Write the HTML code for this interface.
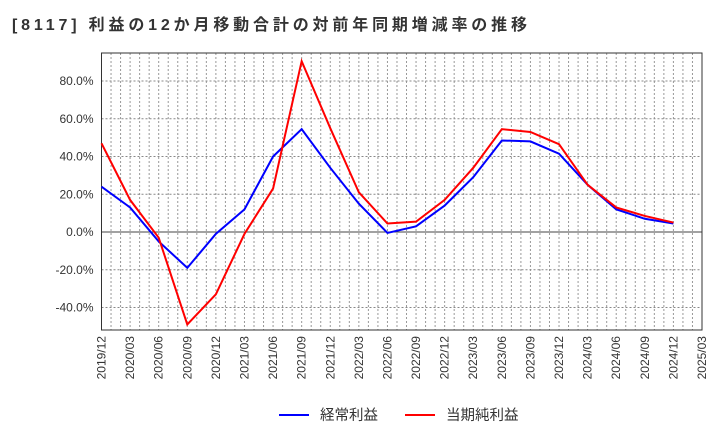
<!DOCTYPE html>
<html><head><meta charset="utf-8"><style>
body{margin:0;background:#fff;font-family:"Liberation Sans","Noto Sans CJK JP",sans-serif}
svg text{font-family:"Liberation Sans","Noto Sans CJK JP",sans-serif}
</style></head><body>
<svg id="c" width="720" height="440">
<text x="12" y="30" font-size="16" font-weight="bold" fill="#333" textLength="515" lengthAdjust="spacing">[8117]  利益の12か月移動合計の対前年同期増減率の推移</text>
<g id="grid"></g><g id="axes"></g><g id="series"></g>
<g>
<line x1="279" y1="415" x2="309" y2="415" stroke="#0000ff" stroke-width="2"/>
<text x="320" y="420" font-size="14.5" fill="#333">経常利益</text>
<line x1="405" y1="415" x2="435" y2="415" stroke="#ff0000" stroke-width="2"/>
<text x="446" y="420" font-size="14.5" fill="#333">当期純利益</text>
</g>
</svg>
<script>
const xLabels=["2019/12","2020/03","2020/06","2020/09","2020/12","2021/03","2021/06","2021/09","2021/12","2022/03","2022/06","2022/09","2022/12","2023/03","2023/06","2023/09","2023/12","2024/03","2024/06","2024/09","2024/12","2025/03"];
const yTicks=[-40,-20,0,20,40,60,80];
const ordinary=[24,13,-5,-19,-1,12,40,54.5,34,15,-0.5,3,14,29,48.5,48,41.5,25,12,7,4.5];
const net=[47,17,-3,-49,-33,-1,23,90.5,55,21,4.5,5.5,17,34,54.5,53,46.5,25,13,8.5,5];
const L=101.5,R=702,T=53,B=330;
const X=i=>L+(R-L)*i/(xLabels.length-1);
const Y=v=>232-v*1.8875;
const ns="http://www.w3.org/2000/svg";
function mk(t,a,p){const e=document.createElementNS(ns,t);for(const k in a)e.setAttribute(k,a[k]);p.appendChild(e);return e;}
const g=document.getElementById('grid'),ax=document.getElementById('axes'),s=document.getElementById('series');
for(let m=1;m<(xLabels.length-1)*3;m++){const x=L+(R-L)*m/((xLabels.length-1)*3);
const l=mk('line',{x1:x,x2:x,y1:T,y2:B,stroke:'#999','stroke-dasharray':'2,2','stroke-width':1},g);

}
yTicks.forEach(v=>{const l=mk('line',{x1:L,x2:R,y1:Y(v),y2:Y(v),stroke:v===0?'#444':'#888','stroke-dasharray':v===0?'':'2,2'},g);


const t=mk('text',{x:L-8,y:Y(v)+4,'text-anchor':'end','font-size':12,fill:'#333'},ax);t.textContent=v.toFixed(1)+'%';

});
const f=mk('rect',{x:L,y:T,width:R-L,height:B-T,fill:'none',stroke:'#333'},ax);


xLabels.forEach((lb,i)=>{const x=X(i);const t=mk('text',{transform:`translate(${x+4},${B+6}) rotate(-90)`,'text-anchor':'end','font-size':12,fill:'#333'},ax);t.textContent=lb;

});
[[ordinary,'#0000ff','ordinary-profit-line'],[net,'#ff0000','net-income-line']].forEach(([d,c,n])=>{
const p=mk('polyline',{points:d.map((v,i)=>X(i)+','+Y(v)).join(' '),fill:'none',stroke:c,'stroke-width':2},s);

});
</script>
</body></html>
